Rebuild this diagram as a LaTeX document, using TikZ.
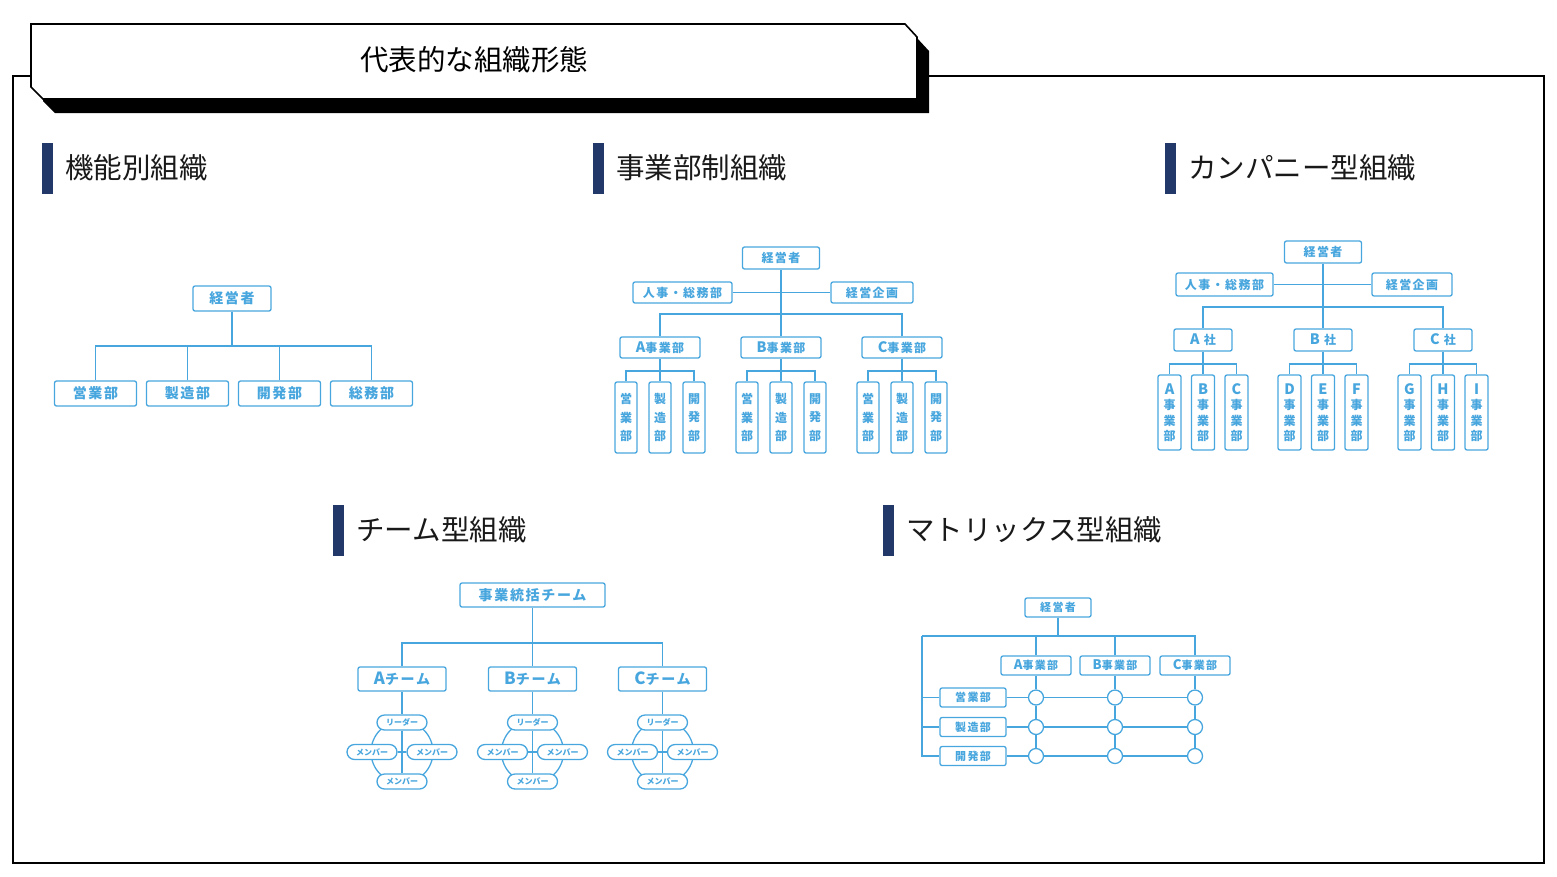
\documentclass[tikz,border=0pt]{standalone}
\usepackage{fontspec}
\usetikzlibrary{positioning}
\newfontfamily\jp{Noto Sans CJK JP}
\newfontfamily\jpb{Noto Sans CJK JP}[LetterSpace=12]
\newcommand\ltr[1]{\scalebox{1.2}{#1}}
\definecolor{orgblue}{RGB}{72,166,222}
\definecolor{navy}{RGB}{34,56,104}
\tikzset{
  box/.style={draw=orgblue, fill=white, rounded corners=2pt, line width=1.3pt,
    text=orgblue, inner sep=0pt, font=\jpb\bfseries\fontsize{12}{12}\selectfont},
  big/.style={font=\jpb\bfseries\fontsize{14}{14}\selectfont},
  small/.style={font=\jpb\bfseries\fontsize{11}{11}\selectfont},
  vbox/.style={box, align=center, minimum width=22pt, minimum height=71pt,
    font=\jpb\bfseries\fontsize{12}{18.5}\selectfont},
  cbox/.style={vbox, minimum width=23pt, minimum height=75pt,
    font=\jpb\bfseries\fontsize{12}{15.5}\selectfont},
  pill/.style={box, rounded corners=7.5pt, minimum width=50pt, minimum height=15pt,
    font=\jp\bfseries\fontsize{8}{8}\selectfont},
  hub/.style={circle, draw=orgblue, fill=white, line width=1.3pt, minimum size=15pt, inner sep=0pt},
  link/.style={draw=orgblue, line width=1.3pt},
  tag/.style={fill=navy, minimum width=11pt, minimum height=51pt, inner sep=0pt},
  heading/.style={font=\jp\fontsize{28.5}{28.5}\selectfont, text=black!90, inner sep=0pt},
}
\begin{document}
\begin{tikzpicture}[x=1pt, y=-1pt]
\useasboundingbox (0,0) rectangle (1557,876);
% Frame and title plate
\draw[line width=1.6pt] (13,76) rectangle (1544,863);
\fill (43,38) -- (917,38) -- (929,51) -- (929,113) -- (55,113) -- (43,101) -- cycle;
\draw[line width=1.6pt, fill=white] (31,24) -- (905,24) -- (917,37) -- (917,99) -- (43,99) -- (31,87) -- cycle;
\node[font=\jp\fontsize{28.5}{28.5}\selectfont] (title) at (474,60) {代表的な組織形態};

% Headings
\node[tag] (tagF) at (47.5,168) {};
\node[heading, right=12pt of tagF] (headF) {機能別組織};
\node[tag] (tagD) at (598.5,168) {};
\node[heading, right=12pt of tagD] (headD) {事業部制組織};
\node[tag] (tagC) at (1170.5,168) {};
\node[heading, right=12pt of tagC] (headC) {カンパニー型組織};
\node[tag] (tagT) at (338.5,530) {};
\node[heading, right=12pt of tagT] (headT) {チーム型組織};
\node[tag] (tagM) at (888.5,530) {};
\node[heading, right=12pt of tagM] (headM) {マトリックス型組織};

% Functional
\node[box, big, minimum width=78pt, minimum height=25pt] (ceoF) at (232,298.5) {経営者};
\node[box, big, minimum width=82pt, minimum height=25pt] (salesF) at (95.5,393.5) {営業部};
\node[box, big, minimum width=82pt, minimum height=25pt] (mfgF) at (187.5,393.5) {製造部};
\node[box, big, minimum width=82pt, minimum height=25pt] (devF) at (279.5,393.5) {開発部};
\node[box, big, minimum width=82pt, minimum height=25pt] (genF) at (371.5,393.5) {総務部};
\coordinate (busF) at (232,346);
\draw[link] (ceoF) -- (busF);
\draw[link] (salesF) |- (busF);
\draw[link] (mfgF) |- (busF);
\draw[link] (devF) |- (busF);
\draw[link] (genF) |- (busF);

% Divisional
\node[box, minimum width=77pt, minimum height=22pt] (ceoD) at (781,258) {経営者};
\node[box, minimum width=99pt, minimum height=21pt] (hrD) at (682.5,292.5) {人事・総務部};
\node[box, minimum width=82pt, minimum height=21pt] (planD) at (872,292.5) {経営企画};
\node[box, minimum width=80pt, minimum height=21pt] (divAD) at (660,347.5) {\ltr{A}事業部};
\node[box, minimum width=80pt, minimum height=21pt] (divBD) at (781,347.5) {\ltr{B}事業部};
\node[box, minimum width=80pt, minimum height=21pt] (divCD) at (902,347.5) {\ltr{C}事業部};
\coordinate (busD) at (781,314);
\draw[link] (hrD) -- (planD);
\draw[link] (ceoD) -- (divBD);
\draw[link] (divAD) |- (busD);
\draw[link] (divCD) |- (busD);
\node[vbox] (sAD) at (626,417.5) {営\\業\\部};
\node[vbox] (mAD) at (660,417.5) {製\\造\\部};
\node[vbox] (dAD) at (694,417.5) {開\\発\\部};
\node[vbox] (sBD) at (747,417.5) {営\\業\\部};
\node[vbox] (mBD) at (781,417.5) {製\\造\\部};
\node[vbox] (dBD) at (815,417.5) {開\\発\\部};
\node[vbox] (sCD) at (868,417.5) {営\\業\\部};
\node[vbox] (mCD) at (902,417.5) {製\\造\\部};
\node[vbox] (dCD) at (936,417.5) {開\\発\\部};
\coordinate (subAD) at (660,371);
\coordinate (subBD) at (781,371);
\coordinate (subCD) at (902,371);
\draw[link] (divAD) -- (mAD);
\draw[link] (sAD) |- (subAD);
\draw[link] (dAD) |- (subAD);
\draw[link] (divBD) -- (mBD);
\draw[link] (sBD) |- (subBD);
\draw[link] (dBD) |- (subBD);
\draw[link] (divCD) -- (mCD);
\draw[link] (sCD) |- (subCD);
\draw[link] (dCD) |- (subCD);

% Company
\node[box, minimum width=77pt, minimum height=22pt] (ceoC) at (1323,252) {経営者};
\node[box, minimum width=97pt, minimum height=23pt] (hrC) at (1224.5,284.5) {人事・総務部};
\node[box, minimum width=80pt, minimum height=23pt] (planC) at (1412,284.5) {経営企画};
\node[box, minimum width=58pt, minimum height=22pt] (coAC) at (1203,340) {\ltr{A} 社};
\node[box, minimum width=58pt, minimum height=22pt] (coBC) at (1323,340) {\ltr{B} 社};
\node[box, minimum width=58pt, minimum height=22pt] (coCC) at (1443,340) {\ltr{C} 社};
\coordinate (busC) at (1323,307);
\draw[link] (hrC) -- (planC);
\draw[link] (ceoC) -- (coBC);
\draw[link] (coAC) |- (busC);
\draw[link] (coCC) |- (busC);
\node[cbox] (uA) at (1169.5,412.5) {\ltr{A}\\事\\業\\部};
\node[cbox] (uB) at (1203,412.5) {\ltr{B}\\事\\業\\部};
\node[cbox] (uC) at (1236.5,412.5) {\ltr{C}\\事\\業\\部};
\node[cbox] (uD) at (1289.5,412.5) {\ltr{D}\\事\\業\\部};
\node[cbox] (uE) at (1323,412.5) {\ltr{E}\\事\\業\\部};
\node[cbox] (uF) at (1356.5,412.5) {\ltr{F}\\事\\業\\部};
\node[cbox] (uG) at (1409.5,412.5) {\ltr{G}\\事\\業\\部};
\node[cbox] (uH) at (1443,412.5) {\ltr{H}\\事\\業\\部};
\node[cbox] (uI) at (1476.5,412.5) {\ltr{I}\\事\\業\\部};
\coordinate (subAC) at (1203,364);
\coordinate (subBC) at (1323,364);
\coordinate (subCC) at (1443,364);
\draw[link] (coAC) -- (uB);
\draw[link] (uA) |- (subAC);
\draw[link] (uC) |- (subAC);
\draw[link] (coBC) -- (uE);
\draw[link] (uD) |- (subBC);
\draw[link] (uF) |- (subBC);
\draw[link] (coCC) -- (uH);
\draw[link] (uG) |- (subCC);
\draw[link] (uI) |- (subCC);

% Team
\node[box, big, minimum width=145pt, minimum height=24pt] (hqT) at (532.5,595) {事業統括チーム};
\node[box, big, minimum width=88pt, minimum height=24pt] (teamAT) at (402,679) {\ltr{A}チーム};
\node[box, big, minimum width=88pt, minimum height=24pt] (teamBT) at (532.5,679) {\ltr{B}チーム};
\node[box, big, minimum width=88pt, minimum height=24pt] (teamCT) at (662.5,679) {\ltr{C}チーム};
\coordinate (busT) at (532.5,643);
\draw[link] (hqT) -- (teamBT);
\draw[link] (teamAT) |- (busT);
\draw[link] (teamCT) |- (busT);
\coordinate (ringAT) at (402,752);
\coordinate (ringBT) at (532.5,752);
\coordinate (ringCT) at (662.5,752);
\draw[link] (ringAT) circle[radius=31pt];
\draw[link] (ringBT) circle[radius=31pt];
\draw[link] (ringCT) circle[radius=31pt];
\node[pill] (ldAT) at (402,722.5) {リーダー};
\node[pill] (lmAT) at (372,752) {メンバー};
\node[pill] (rmAT) at (432,752) {メンバー};
\node[pill] (bmAT) at (402,781.5) {メンバー};
\node[pill] (ldBT) at (532.5,722.5) {リーダー};
\node[pill] (lmBT) at (502.5,752) {メンバー};
\node[pill] (rmBT) at (562.5,752) {メンバー};
\node[pill] (bmBT) at (532.5,781.5) {メンバー};
\node[pill] (ldCT) at (662.5,722.5) {リーダー};
\node[pill] (lmCT) at (632.5,752) {メンバー};
\node[pill] (rmCT) at (692.5,752) {メンバー};
\node[pill] (bmCT) at (662.5,781.5) {メンバー};
\draw[link] (teamAT) -- (ldAT) -- (bmAT);
\draw[link] (lmAT) -- (rmAT);
\draw[link] (teamBT) -- (ldBT) -- (bmBT);
\draw[link] (lmBT) -- (rmBT);
\draw[link] (teamCT) -- (ldCT) -- (bmCT);
\draw[link] (lmCT) -- (rmCT);

% Matrix
\node[box, small, minimum width=66pt, minimum height=19pt] (ceoM) at (1058,607.5) {経営者};
\node[box, small, minimum width=70pt, minimum height=19pt] (divAM) at (1036,665.5) {\ltr{A}事業部};
\node[box, small, minimum width=70pt, minimum height=19pt] (divBM) at (1115,665.5) {\ltr{B}事業部};
\node[box, small, minimum width=70pt, minimum height=19pt] (divCM) at (1195,665.5) {\ltr{C}事業部};
\node[box, small, minimum width=66pt, minimum height=19pt] (salesM) at (973,697.5) {営業部};
\node[box, small, minimum width=66pt, minimum height=19pt] (mfgM) at (973,727) {製造部};
\node[box, small, minimum width=66pt, minimum height=19pt] (devM) at (973,756) {開発部};
\node[hub] (xA1) at (1036,697.5) {};
\node[hub] (xA2) at (1036,727) {};
\node[hub] (xA3) at (1036,756) {};
\node[hub] (xB1) at (1115,697.5) {};
\node[hub] (xB2) at (1115,727) {};
\node[hub] (xB3) at (1115,756) {};
\node[hub] (xC1) at (1195,697.5) {};
\node[hub] (xC2) at (1195,727) {};
\node[hub] (xC3) at (1195,756) {};
\coordinate (cornerM) at (922,636);
\draw[link] (ceoM) |- (cornerM);
\draw[link] (divAM) |- (cornerM);
\draw[link] (divBM) |- (cornerM);
\draw[link] (divCM) |- (cornerM);
\draw[link] (salesM) -| (cornerM);
\draw[link] (mfgM) -| (cornerM);
\draw[link] (devM) -| (cornerM);
\draw[link] (divAM) -- (xA1) -- (xA2) -- (xA3);
\draw[link] (divBM) -- (xB1) -- (xB2) -- (xB3);
\draw[link] (divCM) -- (xC1) -- (xC2) -- (xC3);
\draw[link] (salesM) -- (xA1) -- (xB1) -- (xC1);
\draw[link] (mfgM) -- (xA2) -- (xB2) -- (xC2);
\draw[link] (devM) -- (xA3) -- (xB3) -- (xC3);
\end{tikzpicture}
\end{document}
